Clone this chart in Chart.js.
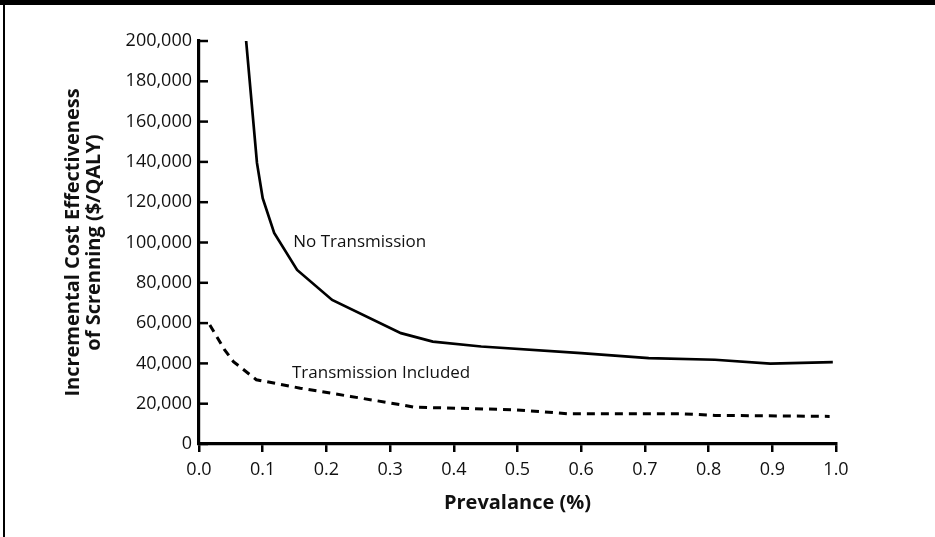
<!DOCTYPE html>
<html>
<head>
<meta charset="utf-8">
<script src="https://cdn.jsdelivr.net/npm/chart.js@4"></script>
<style>
  html, body { margin: 0; padding: 0; background: #fff; }
  #wrap { position: relative; width: 935px; height: 537px; }
  #topbar { position: absolute; left: 0; top: 0; width: 935px; height: 5px; background: #000; }
  #leftbar { position: absolute; left: 3px; top: 0; width: 2px; height: 537px; background: #000; }
</style>
</head>
<body>
<div id="wrap">
  <canvas id="chart" width="935" height="537"></canvas>
  <div id="topbar"></div>
  <div id="leftbar"></div>
</div>
<script>
// Prevalence (%) and cost effectiveness ($/QALY)
const prevalenceNoTx = [0.074, 0.091, 0.100, 0.118, 0.154, 0.209, 0.317, 0.367, 0.443, 0.600, 0.706, 0.810, 0.897, 0.995];
const costNoTx = [200000, 139500, 122000, 104700, 86400, 71500, 55000, 50800, 48400, 45100, 42600, 41800, 39900, 40600];

const prevalenceTx = [0.017, 0.040, 0.054, 0.090, 0.159, 0.238, 0.317, 0.337, 0.495, 0.580, 0.758, 0.810, 0.990];
const costTx = [59100, 46800, 40900, 31900, 27700, 23600, 19500, 18300, 17000, 15000, 15000, 14200, 13700];

const seriesNames = ['No Transmission', 'Transmission Included'];
// where each curve name is written, in data units [prevalence, cost]
const curveLabels = [[0.148, 98000], [0.146, 32700]];

const xTitle = 'Prevalance (%)';
const yTitle = ['Incremental Cost Effectiveness', 'of Screnning ($/QALY)'];

const FONT = "'Open Sans', 'DejaVu Sans', sans-serif";

// build {x, y} points from the arrays
function toPoints(xs, ys) {
  return xs.map((x, i) => ({ x: x, y: ys[i] }));
}

// short inward tick marks on the y axis + curve names
const extrasPlugin = {
  id: 'extras',
  afterDatasetsDraw(chart) {
    const ctx = chart.ctx;
    const x = chart.scales.x;
    const y = chart.scales.y;
    ctx.save();
    ctx.strokeStyle = '#000';
    ctx.lineWidth = 2.5;
    y.ticks.forEach(t => {
      const py = y.getPixelForValue(t.value);
      ctx.beginPath();
      ctx.moveTo(chart.chartArea.left, py);
      ctx.lineTo(chart.chartArea.left + 9, py);
      ctx.stroke();
    });
    ctx.fillStyle = '#111';
    ctx.font = '17px ' + FONT;
    ctx.textBaseline = 'alphabetic';
    curveLabels.forEach((p, i) => {
      ctx.fillText(seriesNames[i], x.getPixelForValue(p[0]), y.getPixelForValue(p[1]));
    });
    ctx.restore();
  }
};

const canvas = document.getElementById('chart');

new Chart(canvas, {
  type: 'line',
  data: {
    datasets: [
      {
        label: seriesNames[0],
        data: toPoints(prevalenceNoTx, costNoTx),
        borderColor: '#000',
        borderWidth: 2.7,
        pointRadius: 0,
        tension: 0
      },
      {
        label: seriesNames[1],
        data: toPoints(prevalenceTx, costTx),
        borderColor: '#000',
        borderWidth: 3,
        borderDash: [8, 6],
        pointRadius: 0,
        tension: 0
      }
    ]
  },
  options: {
    responsive: false,
    animation: false,
    events: [],
    layout: { padding: { left: 0, top: 41, right: 99, bottom: 0 } },
    plugins: {
      legend: { display: false },
      tooltip: { enabled: false }
    },
    scales: {
      x: {
        type: 'linear',
        min: 0,
        max: 1,
        afterFit(scale) { scale.height = 93; },
        border: { display: true, color: '#000', width: 3.2 },
        grid: { drawOnChartArea: false, color: '#000', lineWidth: 2.5, tickLength: 8 },
        ticks: {
          stepSize: 0.1,
          maxRotation: 0,
          padding: 7,
          color: '#111',
          font: { family: FONT, size: 18 },
          callback: v => v.toFixed(1)
        },
        title: {
          display: true,
          text: xTitle,
          color: '#111',
          font: { family: FONT, size: 20, weight: 'bold' },
          padding: { top: 0, bottom: 22 }
        }
      },
      y: {
        min: 0,
        max: 200000,
        afterFit(scale) { scale.width = 199; },
        border: { display: true, color: '#000', width: 3.2 },
        grid: { drawOnChartArea: false, drawTicks: false },
        ticks: {
          stepSize: 20000,
          padding: 7,
          color: '#111',
          font: { family: FONT, size: 18 },
          callback: v => v.toLocaleString('en-US')
        },
        title: {
          display: true,
          text: yTitle,
          color: '#111',
          font: { family: FONT, size: 20, weight: 'bold', lineHeight: 1.05 },
          padding: { top: 63, bottom: 0 }
        }
      }
    }
  },
  plugins: [extrasPlugin]
});
</script>
</body>
</html>
